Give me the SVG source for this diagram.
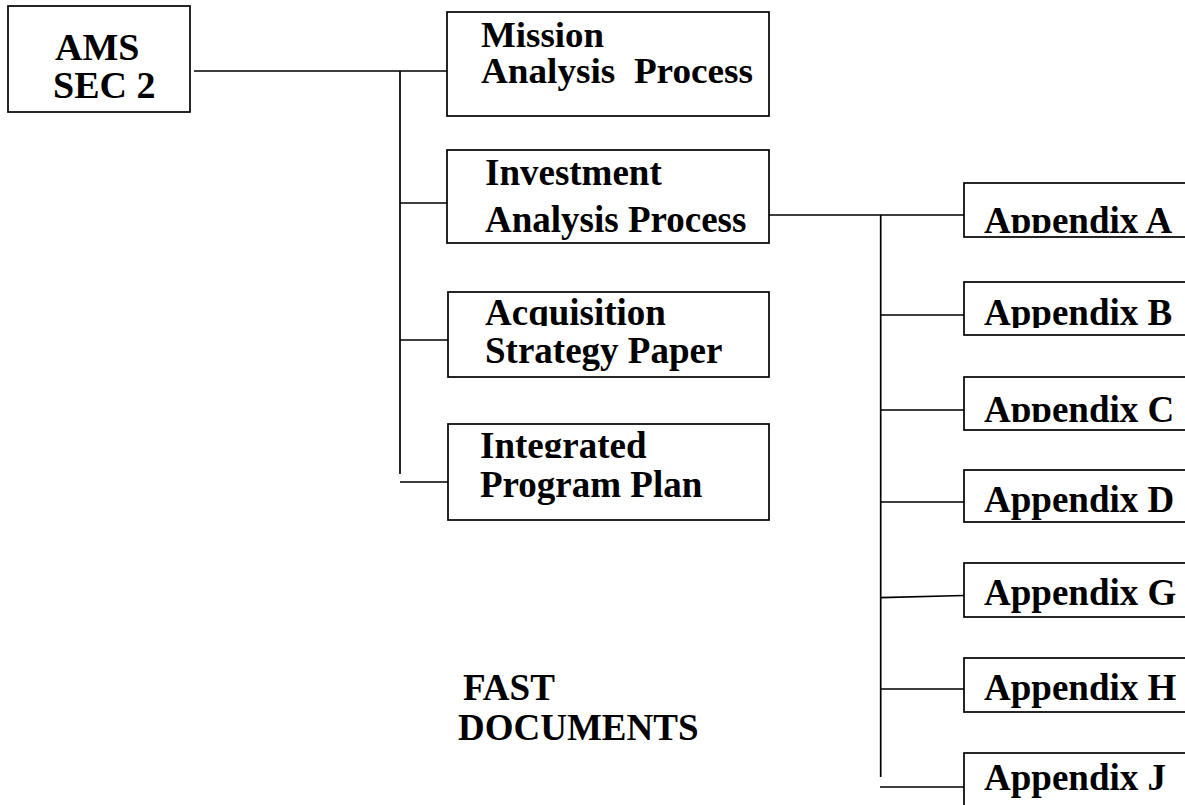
<svg xmlns="http://www.w3.org/2000/svg" width="1185" height="805" viewBox="0 0 1185 805">
<style>
.box{fill:#fff;stroke:#000;stroke-width:1.7}
.ln{fill:none;stroke:#000;stroke-width:1.7}
.t{font-family:"Liberation Serif","Times New Roman",serif;font-weight:bold;font-size:37px;fill:#000;white-space:pre}
</style>
<defs>
<clipPath id="cA"><rect x="964" y="183" width="300" height="50"/></clipPath>
<clipPath id="cB"><rect x="964" y="282" width="300" height="46"/></clipPath>
<clipPath id="cC"><rect x="964" y="377" width="300" height="45"/></clipPath>
<clipPath id="cAcq"><rect x="447" y="292" width="322" height="34"/></clipPath>
<clipPath id="cInt"><rect x="447" y="424" width="322" height="34"/></clipPath>
</defs>
<rect width="1185" height="805" fill="#fff"/>
<g id="connectors">
<path class="ln" d="M194 71H448M400 71V474M400 203H447M400 340H448M400 482H448"/>
<path class="ln" d="M769 215H964M880.7 215V777M880.7 315H964M880.7 410H964M880.7 502H964M880.7 597.7L964 595.5M880.7 689H964M880 787H964"/>
</g>
<g id="ams">
<rect class="box" x="8" y="6" width="182" height="106"/>
<text class="t" x="55" y="60" style="font-size:38px">AMS</text>
<text class="t" x="53" y="98" style="font-size:38px">SEC 2</text>
</g>
<g id="mission">
<rect class="box" x="447" y="12" width="322" height="104"/>
<text class="t" x="481" y="47" style="font-size:35px" textLength="123" lengthAdjust="spacingAndGlyphs">Mission</text>
<text class="t" x="481" y="83" style="font-size:35px" textLength="272" lengthAdjust="spacingAndGlyphs">Analysis  Process</text>
</g>
<g id="investment">
<rect class="box" x="447" y="150" width="322" height="93"/>
<text class="t" x="485" y="185">Investment</text>
<text class="t" x="485" y="232">Analysis Process</text>
</g>
<g id="acquisition">
<rect class="box" x="448" y="292" width="321" height="85"/>
<text class="t" x="485" y="325" clip-path="url(#cAcq)">Acquisition</text>
<text class="t" x="485" y="363">Strategy Paper</text>
</g>
<g id="integrated">
<rect class="box" x="448" y="424" width="321" height="96"/>
<text class="t" x="480" y="458" clip-path="url(#cInt)">Integrated</text>
<text class="t" x="480" y="497">Program Plan</text>
</g>
<g id="appA">
<rect class="box" x="964" y="183" width="300" height="54"/>
<text class="t" x="984" y="233" clip-path="url(#cA)">Appendix A</text>
</g>
<g id="appB">
<rect class="box" x="964" y="282" width="300" height="53"/>
<text class="t" x="984" y="325" clip-path="url(#cB)">Appendix B</text>
</g>
<g id="appC">
<rect class="box" x="964" y="377" width="300" height="53"/>
<text class="t" x="984" y="421.5" clip-path="url(#cC)">Appendix C</text>
</g>
<g id="appD">
<rect class="box" x="964" y="470" width="300" height="52"/>
<text class="t" x="984" y="512">Appendix D</text>
</g>
<g id="appG">
<rect class="box" x="964" y="563" width="300" height="54"/>
<text class="t" x="984" y="605">Appendix G</text>
</g>
<g id="appH">
<rect class="box" x="964" y="658" width="300" height="54"/>
<text class="t" x="984" y="700">Appendix H</text>
</g>
<g id="appJ">
<rect class="box" x="964" y="753" width="300" height="80"/>
<text class="t" x="984" y="790">Appendix J</text>
</g>
<g id="fast-label">
<text class="t" x="463" y="700">FAST</text>
<text class="t" x="458" y="740">DOCUMENTS</text>
</g>
</svg>
